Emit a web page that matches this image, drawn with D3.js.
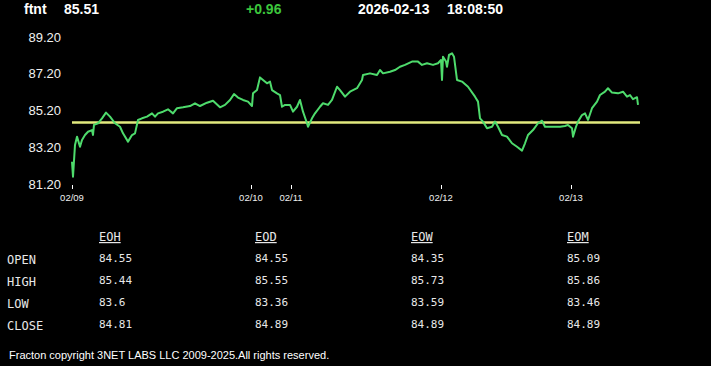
<!DOCTYPE html>
<html>
<head>
<meta charset="utf-8">
<script src="https://cdn.jsdelivr.net/npm/d3@7/dist/d3.min.js"></script>
<style>
  html, body { margin: 0; padding: 0; background: #000; }
  svg { display: block; }
</style>
</head>
<body>
<div id="chart"></div>
<script>
// header
const symbol = "ftnt";
const lastPrice = "85.51";
const change = "+0.96";
const stamp = ["2026-02-13", "18:08:50"];
const prevClose = 84.55;

// intraday series: sample index (minutes of trading) and price
const sampleIdx = [0, 1, 3, 5, 8, 10, 13, 16, 20, 21, 22, 26, 30, 34, 38, 43, 48, 51, 56, 60,
  63, 66, 70, 75, 80, 83, 86, 91, 96, 101, 105, 111, 118, 123, 128, 135, 141, 148, 153, 158,
  162, 166, 171, 176, 180, 181, 185, 188, 191, 195, 198, 200, 205, 208, 210, 213, 218, 221, 225, 228,
  231, 235, 236, 240, 243, 248, 251, 256, 260, 265, 268, 273, 278, 285, 290, 291, 298, 305, 308, 311,
  318, 323, 328, 333, 340, 346, 350, 355, 361, 366, 369, 370, 371, 374, 375, 377, 380, 382, 385, 390,
  396, 403, 406, 408, 411, 415, 420, 423, 426, 430, 435, 440, 445, 450, 453, 456, 461, 466, 470, 473,
  478, 483, 488, 493, 496, 500, 501, 504, 506, 510, 513, 516, 520, 525, 528, 533, 536, 540, 546, 551,
  555, 558, 561, 565, 566];
const price = [82.42, 81.60, 83.33, 83.78, 83.23, 83.60, 83.87, 84.05, 84.14, 83.87, 84.42, 84.51, 84.78, 85.09, 84.87, 84.51, 84.32, 83.96, 83.51, 83.87,
  83.96, 84.69, 84.78, 84.87, 85.05, 84.87, 85.05, 85.14, 85.27, 85.05, 85.33, 85.38, 85.45, 85.60, 85.45, 85.63, 85.74, 85.38, 85.51, 85.78,
  86.10, 85.91, 85.78, 85.69, 85.45, 86.14, 86.32, 87.01, 86.87, 86.69, 86.78, 86.32, 86.14, 86.05, 85.41, 85.51, 85.51, 85.14, 85.41, 85.78,
  85.14, 84.51, 84.32, 84.78, 85.05, 85.41, 85.60, 85.51, 85.78, 86.50, 86.32, 85.96, 86.23, 86.42, 86.87, 87.14, 87.23, 87.14, 87.41, 87.23,
  87.32, 87.41, 87.59, 87.69, 87.87, 87.87, 87.69, 87.78, 87.69, 87.78, 87.96, 86.87, 88.14, 87.87, 87.59, 88.23, 88.32, 88.14, 86.87, 86.78,
  86.50, 85.96, 85.69, 84.78, 84.60, 84.24, 84.32, 84.60, 84.32, 83.87, 83.78, 83.42, 83.23, 83.02, 83.42, 83.87, 84.14, 84.51, 84.65, 84.32,
  84.32, 84.32, 84.32, 84.36, 84.42, 84.24, 83.78, 84.32, 84.60, 84.96, 85.05, 84.69, 85.33, 85.69, 86.05, 86.23, 86.42, 86.18, 86.14, 86.23,
  85.96, 86.05, 85.82, 85.93, 85.51];
const totalSamples = 568;

// axis
const yTicks = [81.2, 83.2, 85.2, 87.2, 89.2];
const dayLabels = ["02/09", "02/10", "02/11", "02/12", "02/13"];
const dayStart = [0, 179, 219, 369, 499];

// table
const periods = ["EOH", "EOD", "EOW", "EOM"];
const rowNames = ["OPEN", "HIGH", "LOW", "CLOSE"];
const openVals = ["84.55", "84.55", "84.35", "85.09"];
const highVals = ["85.44", "85.55", "85.73", "85.86"];
const lowVals = ["83.6", "83.36", "83.59", "83.46"];
const closeVals = ["84.81", "84.89", "84.89", "84.89"];

const footer = "Fracton copyright 3NET LABS LLC 2009-2025.All rights reserved.";

const W = 711, H = 366;
const svg = d3.select("#chart").append("svg")
    .attr("width", W)
    .attr("height", H)
    .style("background", "#000");

// header texts
const head = svg.append("g")
    .attr("font-family", "Arial, 'Liberation Sans', sans-serif")
    .attr("font-weight", "bold")
    .attr("font-size", 14);
head.append("text").attr("x", 24).attr("y", 14).attr("fill", "#fff").text(symbol);
head.append("text").attr("x", 64).attr("y", 14).attr("fill", "#fff").text(lastPrice);
head.append("text").attr("x", 246).attr("y", 14).attr("fill", "#3cc63c").text(change);
head.append("text").attr("x", 358).attr("y", 14).attr("fill", "#fff").text(stamp[0]);
head.append("text").attr("x", 447).attr("y", 14).attr("fill", "#fff").text(stamp[1]);

// scales
const x = d3.scaleLinear().domain([0, totalSamples]).range([72, 640]);
const y = d3.scaleLinear().domain([81.2, 89.2]).range([184, 37.2]);

// y labels
svg.append("g")
    .attr("font-family", "Arial, 'Liberation Sans', sans-serif")
    .attr("font-size", 13)
    .attr("fill", "#f0f0f0")
    .attr("text-anchor", "end")
  .selectAll("text")
    .data(yTicks)
    .enter()
    .append("text")
    .attr("x", 61)
    .attr("y", d => y(d))
    .attr("dy", "0.35em")
    .text(d => d.toFixed(2));

// x ticks
const xt = svg.append("g").attr("class", "xticks");
xt.selectAll("line")
    .data(dayStart)
    .enter()
    .append("line")
    .attr("x1", d => x(d) + 0.5)
    .attr("x2", d => x(d) + 0.5)
    .attr("y1", 185)
    .attr("y2", 189)
    .attr("stroke", "#fff")
    .attr("stroke-width", 1);
xt.selectAll("text")
    .data(dayStart)
    .enter()
    .append("text")
    .attr("x", d => x(d))
    .attr("y", 201)
    .attr("text-anchor", "middle")
    .attr("font-family", "Arial, 'Liberation Sans', sans-serif")
    .attr("font-size", 9.5)
    .attr("fill", "#f0f0f0")
    .text((d, i) => dayLabels[i]);

// previous close
svg.append("line")
    .attr("x1", x(0))
    .attr("x2", x(totalSamples))
    .attr("y1", y(prevClose))
    .attr("y2", y(prevClose))
    .attr("stroke", "#e2ea7e")
    .attr("stroke-width", 2.5);

// price line
const line = d3.line()
    .x((d, i) => x(sampleIdx[i]))
    .y(d => y(d));
svg.append("path")
    .datum(price)
    .attr("d", line)
    .attr("fill", "none")
    .attr("stroke", "#4edb6c")
    .attr("stroke-width", 2)
    .attr("stroke-linejoin", "round");

// table
const mono = "Consolas, 'DejaVu Sans Mono', 'Liberation Mono', monospace";
const colX = [99, 255, 411, 567];
const rowY = [262, 284, 306, 328];
const table = svg.append("g").attr("font-family", mono).attr("fill", "#e8e8e8");

table.selectAll("text.hdr")
    .data(periods)
    .enter()
    .append("text")
    .attr("class", "hdr")
    .attr("x", (d, i) => colX[i])
    .attr("y", 241)
    .attr("font-size", 12)
    .attr("text-decoration", "underline")
    .text(d => d);

table.selectAll("text.row")
    .data(rowNames)
    .enter()
    .append("text")
    .attr("class", "row")
    .attr("x", 7)
    .attr("y", (d, i) => rowY[i] + 2)
    .attr("font-size", 12)
    .text(d => d);

const rows = [openVals, highVals, lowVals, closeVals];
rows.forEach((vals, r) => {
  table.selectAll("text.v" + r)
      .data(vals)
      .enter()
      .append("text")
      .attr("class", "v" + r)
      .attr("x", (d, i) => colX[i])
      .attr("y", rowY[r])
      .attr("font-size", 11)
      .text(d => d);
});

// footer
svg.append("text")
    .attr("x", 9)
    .attr("y", 359)
    .attr("font-family", "Arial, 'Liberation Sans', sans-serif")
    .attr("font-size", 11)
    .attr("fill", "#fff")
    .text(footer);
</script>
</body>
</html>
